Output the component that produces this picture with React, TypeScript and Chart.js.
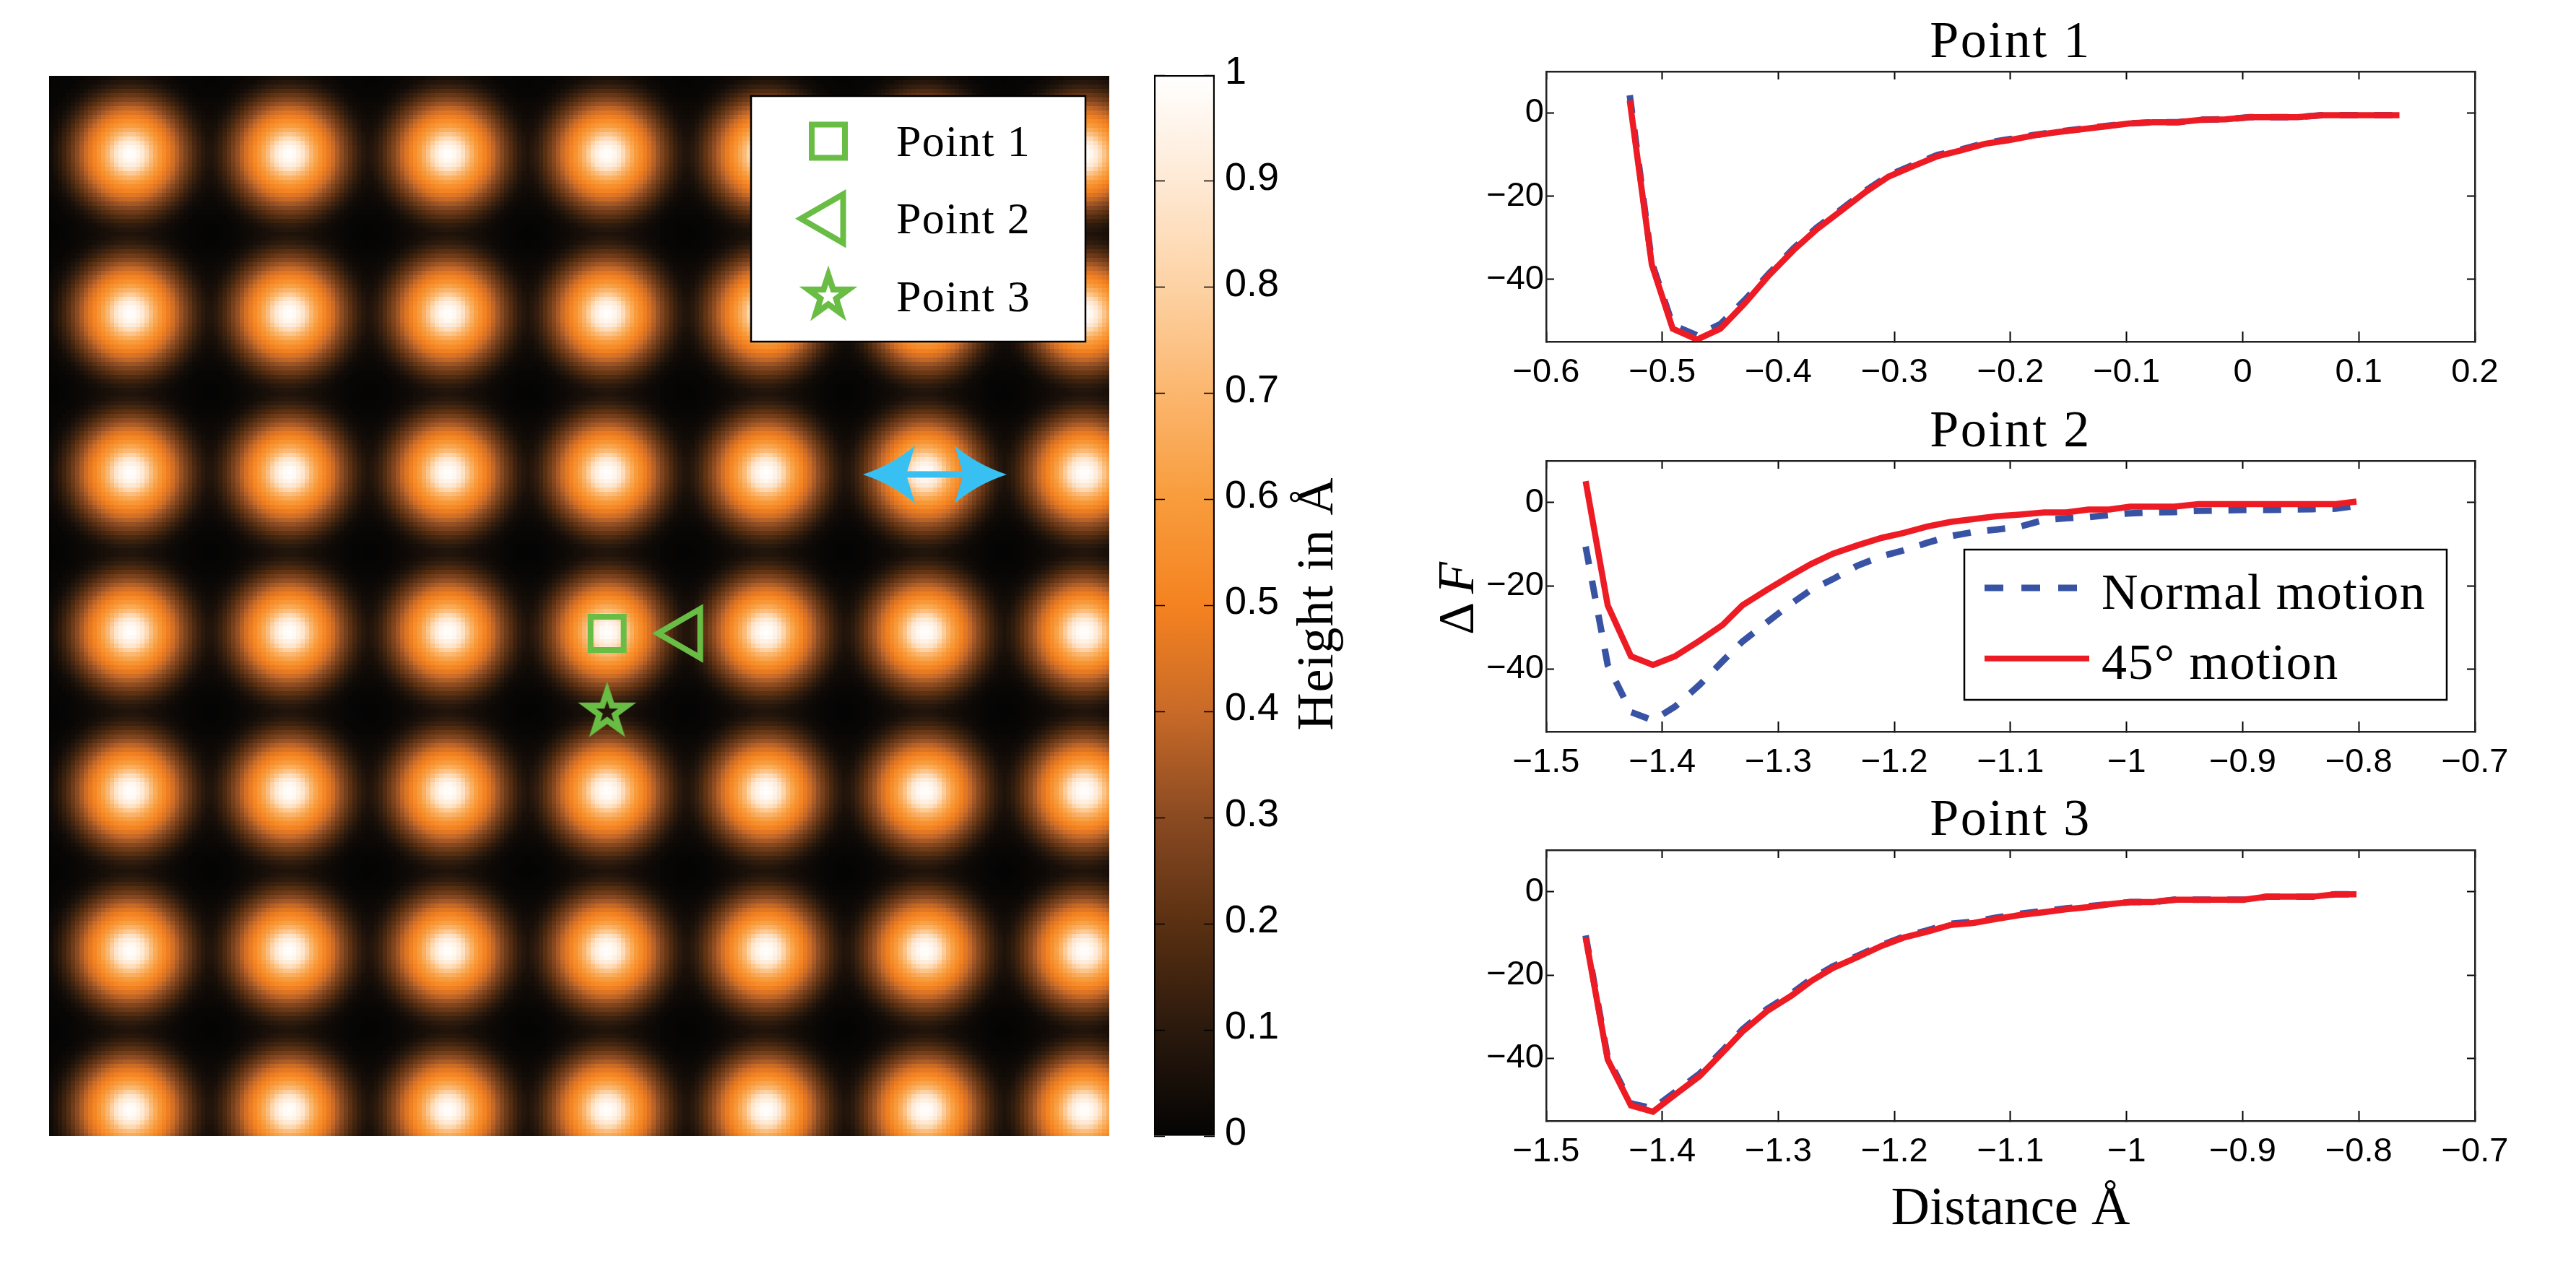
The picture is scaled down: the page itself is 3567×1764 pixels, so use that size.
import React, { useEffect, useRef } from "react";
import { Chart, registerables } from "chart.js";
import { drawPoint } from "chart.js/helpers";

Chart.register(...registerables);

// ---------- data ----------
const peakColumns = [0, 1, 2, 3, 4, 5, 6];
const peakRows = [0, 1, 2, 3, 4, 5, 6];
// height of one bump against distance from its centre, in lattice units
const profileDistance = [0, 0.045, 0.091, 0.136, 0.182, 0.227, 0.264, 0.318, 0.364, 0.418, 0.46, 0.5, 0.56, 0.68, 2];
const profileHeight = [1, 0.97, 0.88, 0.72, 0.6, 0.51, 0.44, 0.33, 0.24, 0.14, 0.08, 0.035, 0.012, 0, 0];
const colorValues = [0, 0.1, 0.2, 0.3, 0.4, 0.5, 0.6, 0.7, 0.8, 0.9, 1];
const colorNames = ["#040404", "#2a190d", "#5a3012", "#8a4a22", "#c86a28", "#f58220", "#f89c3c", "#fbb66e", "#fdd2a4", "#fee9d4", "#ffffff"];
const colorbarTicks = [0, 0.1, 0.2, 0.3, 0.4, 0.5, 0.6, 0.7, 0.8, 0.9, 1];
const point1 = [{ x: 3.0, y: 3.008 }];
const point2 = [{ x: 3.497, y: 3.008 }];
const point3 = [{ x: 3.0, y: 3.502 }];
const arrowTipsX = [4.609, 5.513];
const arrowY = 2.01;
const mapLegendLabels = ["Point 1", "Point 2", "Point 3"];

const x1 = [-0.528, -0.509, -0.491, -0.47, -0.45, -0.429, -0.408, -0.387, -0.367, -0.346, -0.325, -0.305, -0.284, -0.263, -0.243, -0.222, -0.201, -0.18, -0.16, -0.139, -0.118, -0.098, -0.077, -0.056, -0.035, -0.015, 0.006, 0.027, 0.047, 0.068, 0.089, 0.11, 0.135];
const normal1 = [4.3, -36, -51, -53.5, -50.8, -45, -38.6, -32.6, -27.6, -23.2, -18.7, -15, -12.5, -10.1, -8.8, -7.2, -6.3, -5.3, -4.5, -3.8, -3.1, -2.5, -2.2, -2.2, -1.6, -1.5, -1, -1, -1, -0.5, -0.5, -0.5, -0.5];
const angled1 = [3, -36.5, -51.9, -54.5, -51.9, -45.8, -39, -33, -28, -23.5, -19, -15.3, -12.8, -10.4, -9, -7.4, -6.5, -5.4, -4.6, -3.9, -3.2, -2.5, -2.2, -2.2, -1.6, -1.5, -1, -1, -1, -0.5, -0.5, -0.5, -0.5];
const x23 = [-1.466, -1.447, -1.427, -1.408, -1.389, -1.368, -1.348, -1.331, -1.31, -1.289, -1.272, -1.253, -1.232, -1.211, -1.192, -1.172, -1.152, -1.132, -1.112, -1.092, -1.071, -1.052, -1.033, -1.015, -0.997, -0.978, -0.959, -0.938, -0.919, -0.899, -0.879, -0.859, -0.84, -0.82, -0.802];
const normal2 = [-10.6, -39, -50.3, -52.3, -49, -43.8, -38.1, -33.4, -28.8, -24.3, -21, -18.4, -15.2, -12.9, -11.5, -9.7, -8.1, -7.1, -6.5, -5.8, -4.2, -3.8, -3.5, -3, -2.6, -2.4, -2.3, -2, -1.9, -1.8, -1.8, -1.7, -1.6, -1.5, -0.8];
const angled2 = [5.1, -24.7, -36.9, -39, -36.9, -33.2, -29.4, -24.7, -21, -17.5, -14.8, -12.3, -10.3, -8.5, -7.3, -5.8, -4.7, -4, -3.3, -2.9, -2.4, -2.4, -1.7, -1.7, -1, -1, -1, -0.4, -0.4, -0.4, -0.4, -0.4, -0.4, -0.4, 0.2];
const normal3 = [-10.5, -39.8, -50.8, -52, -48.1, -43.7, -38.1, -33.1, -28.2, -24.5, -21, -17.9, -15.4, -12.8, -10.8, -9.3, -7.7, -7.2, -6.2, -5.3, -4.6, -4, -3.5, -3, -2.5, -2.5, -1.9, -1.9, -1.9, -1.9, -1.2, -1.2, -1.2, -0.6, -0.6];
const angled3 = [-11, -40.3, -51.3, -52.8, -48.7, -44.3, -38.6, -33.6, -28.7, -25, -21.5, -18.3, -15.7, -13, -11, -9.6, -8, -7.5, -6.5, -5.6, -4.9, -4.2, -3.7, -3, -2.5, -2.5, -1.9, -1.9, -1.9, -1.9, -1.2, -1.2, -1.2, -0.6, -0.6];
const yTicks = [-40, -20, 0];
const xTicks1 = [-0.6, -0.5, -0.4, -0.3, -0.2, -0.1, 0, 0.1, 0.2];
const xTicks23 = [-1.5, -1.4, -1.3, -1.2, -1.1, -1, -0.9, -0.8, -0.7];
const seriesLabels = ["Normal motion", "45° motion"];

// ---------- style ----------
const SERIF = "'Liberation Serif'";
const SANS = "'Liberation Sans'";
const RED = "#ed1c24";
const BLUE = "#3953a4";
const GREEN = "#69bd45";
const CYAN = "#39c0f2";
const xRange = { min: -0.509, max: 6.158 };
const yRange = { min: -0.492, max: 6.163 };

const rgb = (hex: string) => [1, 3, 5].map((i) => parseInt(hex.slice(i, i + 2), 16));
const lookup = (xs: number[], ys: number[], v: number) => {
  if (v <= xs[0]) return ys[0];
  for (let i = 1; i < xs.length; i++) {
    if (v <= xs[i]) return ys[i - 1] + ((ys[i] - ys[i - 1]) * (v - xs[i - 1])) / (xs[i] - xs[i - 1]);
  }
  return ys[ys.length - 1];
};
const colorRGB = colorNames.map(rgb);
const colorAt = (v: number) =>
  [0, 1, 2].map((c) => lookup(colorValues, colorRGB.map((r) => r[c]), v));

function text(ctx: any, s: string, x: number, y: number, font: string, spacing = 0, align = "left") {
  ctx.save();
  ctx.font = font;
  ctx.fillStyle = "#000";
  ctx.textAlign = align;
  ctx.textBaseline = "alphabetic";
  ctx.letterSpacing = spacing + "px";
  ctx.fillText(s, x, y);
  ctx.restore();
}

function makeStar(): HTMLCanvasElement {
  const c = document.createElement("canvas");
  c.width = 96;
  c.height = 96;
  const g = c.getContext("2d") as CanvasRenderingContext2D;
  const star = (R: number, r: number) => {
    g.beginPath();
    for (let i = 0; i < 10; i++) {
      const a = -Math.PI / 2 + (i * Math.PI) / 5;
      const d = i % 2 ? r : R;
      g.lineTo(48 + d * Math.cos(a), 48 + d * Math.sin(a));
    }
    g.closePath();
    g.fill();
  };
  g.fillStyle = GREEN;
  star(42.5, 16.5);
  g.globalCompositeOperation = "destination-out";
  star(16, 6.2);
  return c;
}

const heatPlugin = {
  id: "heat",
  beforeDatasetsDraw(chart: any) {
    const { ctx, chartArea: a, scales } = chart;
    const cell = 6;
    const cols = Math.ceil((a.right - a.left) / cell);
    const rows = Math.ceil((a.bottom - a.top) / cell);
    const off = document.createElement("canvas");
    off.width = cols;
    off.height = rows;
    const g = off.getContext("2d") as CanvasRenderingContext2D;
    const img = g.createImageData(cols, rows);
    for (let j = 0; j < rows; j++) {
      const vy = scales.y.getValueForPixel(a.top + (j + 0.5) * cell);
      for (let i = 0; i < cols; i++) {
        const vx = scales.x.getValueForPixel(a.left + (i + 0.5) * cell);
        let h = 0;
        for (const px of peakColumns) {
          for (const py of peakRows) {
            h += lookup(profileDistance, profileHeight, Math.hypot(vx - px, vy - py));
          }
        }
        const col = colorAt(Math.min(1, h));
        const k = (j * cols + i) * 4;
        img.data[k] = col[0];
        img.data[k + 1] = col[1];
        img.data[k + 2] = col[2];
        img.data[k + 3] = 255;
      }
    }
    g.putImageData(img, 0, 0);
    ctx.save();
    ctx.imageSmoothingEnabled = false;
    ctx.drawImage(off, a.left, a.top, cols * cell, rows * cell);
    ctx.restore();
  },
  afterDatasetsDraw(chart: any) {
    const { ctx, scales } = chart;
    // double arrow
    const y = scales.y.getPixelForValue(arrowY);
    const lx = scales.x.getPixelForValue(arrowTipsX[0]);
    const rx = scales.x.getPixelForValue(arrowTipsX[1]);
    ctx.save();
    ctx.fillStyle = CYAN;
    ctx.fillRect(lx + 50, y - 4.5, rx - lx - 100, 9);
    for (const [tip, dir] of [[lx, 1], [rx, -1]]) {
      ctx.beginPath();
      ctx.moveTo(tip, y);
      ctx.quadraticCurveTo(tip + dir * 42, y - 14, tip + dir * 72, y - 40);
      ctx.lineTo(tip + dir * 60, y);
      ctx.lineTo(tip + dir * 72, y + 40);
      ctx.quadraticCurveTo(tip + dir * 42, y + 14, tip, y);
      ctx.closePath();
      ctx.fill();
    }
    // legend
    ctx.fillStyle = "#fff";
    ctx.strokeStyle = "#000";
    ctx.lineWidth = 2.5;
    ctx.fillRect(972, 28, 463, 340);
    ctx.strokeRect(972, 28, 463, 340);
    ctx.strokeStyle = GREEN;
    ctx.fillStyle = "rgba(0,0,0,0)";
    const ds = chart.data.datasets;
    const spots = [[1079, 90.6], [1080, 197.7], [1079, 305]];
    spots.forEach((p, i) => {
      const d = ds[i + 1];
      ctx.lineWidth = d.pointBorderWidth;
      drawPoint(ctx, { pointStyle: d.pointStyle, rotation: d.pointRotation || 0, radius: d.pointRadius, borderWidth: d.pointBorderWidth }, p[0], p[1]);
    });
    ctx.restore();
    [111, 218, 326].forEach((b, i) => text(ctx, mapLegendLabels[i], 1173, b, `62px ${SERIF}`, 1.2));
  },
};

const colorTitlePlugin = {
  id: "colorTitle",
  afterDraw(chart: any) {
    const { ctx } = chart;
    ctx.save();
    ctx.translate(255, 776);
    ctx.rotate(-Math.PI / 2);
    text(ctx, "Height in Å", 0, 0, `72px ${SERIF}`, 1, "center");
    ctx.restore();
  },
};

// the titles are drawn before the datasets, the ticks after them (ticks.z = 1)
const titleSpacingPlugin = {
  id: "titleSpacing",
  beforeDraw(chart: any) {
    chart.ctx.letterSpacing = "2.5px";
  },
  beforeDatasetsDraw(chart: any) {
    chart.ctx.letterSpacing = "0px";
  },
};

const pairLegendPlugin = {
  id: "pairLegend",
  afterDatasetsDraw(chart: any) {
    const { ctx } = chart;
    ctx.save();
    ctx.fillStyle = "#fff";
    ctx.strokeStyle = "#000";
    ctx.lineWidth = 2.5;
    ctx.fillRect(760, 198, 668, 208);
    ctx.strokeRect(760, 198, 668, 208);
    ctx.lineCap = "butt";
    ctx.lineWidth = 9;
    ctx.strokeStyle = BLUE;
    ctx.setLineDash([26, 25]);
    ctx.beginPath();
    ctx.moveTo(788, 251);
    ctx.lineTo(916, 251);
    ctx.stroke();
    ctx.setLineDash([]);
    ctx.lineWidth = 8;
    ctx.strokeStyle = RED;
    ctx.beginPath();
    ctx.moveTo(788, 348.7);
    ctx.lineTo(933, 348.7);
    ctx.stroke();
    ctx.restore();
    text(ctx, seriesLabels[0], 950, 280, `70px ${SERIF}`, 1.5);
    text(ctx, seriesLabels[1], 950, 377, `70px ${SERIF}`, 1.5);
    // y axis label
    ctx.save();
    ctx.translate(80, 316);
    ctx.rotate(-Math.PI / 2);
    text(ctx, "Δ", 0, 0, `70px ${SERIF}`);
    text(ctx, "F", 57, 0, `italic 72px ${SERIF}`);
    ctx.restore();
  },
};

const fmt = (v: number) => String(Math.round(v * 10) / 10).replace("-", "\u2212");
const setTicks = (list: number[]) => (s: any) => {
  s.ticks = list.map((value) => ({ value }));
};
const fixSize = (w: number | null, h: number | null) => (s: any) => {
  if (w !== null) s.width = w;
  if (h !== null) s.height = h;
  s.paddingLeft = s.paddingRight = s.paddingTop = s.paddingBottom = 0;
};

function lineConfig(opts: {
  title: string;
  xs: number[];
  normal: number[];
  angled: number[];
  xTicks: number[];
  xMin: number;
  xMax: number;
  titlePad: number;
  xHeight: number;
  xTitle?: string;
  plugins?: any[];
}) {
  const frame = { display: true, color: "#222", width: 2.5, z: 1 };
  const tickFont = { family: SANS, size: 47 };
  const pts = (ys: number[]) => ys.map((y, i) => ({ x: opts.xs[i], y }));
  return {
    type: "line",
    data: {
      datasets: [
        { label: seriesLabels[0], order: 2, data: pts(opts.normal), borderColor: BLUE, borderWidth: 9, borderDash: [25, 23], borderCapStyle: "butt", borderJoinStyle: "miter", pointRadius: 0, tension: 0 },
        { label: seriesLabels[1], order: 1, data: pts(opts.angled), borderColor: RED, borderWidth: 8.5, borderCapStyle: "butt", borderJoinStyle: "miter", pointRadius: 0, tension: 0 },
      ],
    },
    plugins: [titleSpacingPlugin, ...(opts.plugins || [])],
    options: {
      animation: false,
      responsive: false,
      devicePixelRatio: 1,
      layout: { autoPadding: false, padding: { left: 0, top: 0, right: 73, bottom: 0 } },
      plugins: {
        legend: { display: false },
        tooltip: { enabled: false },
        title: {
          display: true,
          text: opts.title,
          fullSize: false,
          color: "#000",
          font: { family: SERIF, size: 72, weight: "normal", lineHeight: 1 },
          padding: { top: 0, bottom: opts.titlePad },
        },
      },
      scales: {
        x: {
          type: "linear",
          position: "bottom",
          min: opts.xMin,
          max: opts.xMax,
          afterBuildTicks: setTicks(opts.xTicks),
          afterFit: fixSize(null, opts.xHeight),
          border: frame,
          grid: { drawOnChartArea: false, tickLength: -14, tickColor: "#000", tickWidth: 2, z: 1 },
          ticks: { z: 1, font: tickFont, color: "#000", padding: 29, autoSkip: false, maxRotation: 0, callback: fmt },
          title: opts.xTitle
            ? { display: true, text: opts.xTitle, color: "#000", font: { family: SERIF, size: 74, lineHeight: 1 }, padding: 0 }
            : { display: false },
        },
        x2: {
          type: "linear",
          position: "top",
          min: opts.xMin,
          max: opts.xMax,
          afterBuildTicks: setTicks(opts.xTicks),
          afterFit: fixSize(null, 0),
          border: frame,
          grid: { drawOnChartArea: false, tickLength: -11, tickColor: "#000", tickWidth: 2, z: 1 },
          ticks: { display: false },
        },
        y: {
          type: "linear",
          position: "left",
          min: -55,
          max: 10,
          afterBuildTicks: setTicks(yTicks),
          afterFit: fixSize(181, null),
          border: frame,
          grid: { drawOnChartArea: false, tickLength: -11, tickColor: "#000", tickWidth: 2, z: 1 },
          ticks: { z: 1, font: tickFont, color: "#000", padding: 14, callback: fmt },
        },
        y2: {
          type: "linear",
          position: "right",
          min: -55,
          max: 10,
          afterBuildTicks: setTicks(yTicks),
          afterFit: fixSize(0, null),
          border: frame,
          grid: { drawOnChartArea: false, tickLength: -11, tickColor: "#000", tickWidth: 2, z: 1 },
          ticks: { display: false },
        },
      },
    },
  };
}

function mapConfig() {
  const peaks: { x: number; y: number }[] = [];
  peakColumns.forEach((x) => peakRows.forEach((y) => peaks.push({ x, y })));
  return {
    type: "scatter",
    data: {
      datasets: [
        { label: "Peaks", data: peaks, pointRadius: 0 },
        { label: mapLegendLabels[0], data: point1, pointStyle: "rect", pointRadius: 32.5, pointBorderWidth: 8, pointBorderColor: GREEN, pointBackgroundColor: "rgba(0,0,0,0)" },
        { label: mapLegendLabels[1], data: point2, pointStyle: "triangle", pointRotation: -90, pointRadius: 39, pointBorderWidth: 8, pointBorderColor: GREEN, pointBackgroundColor: "rgba(0,0,0,0)" },
        { label: mapLegendLabels[2], data: point3, pointStyle: makeStar(), pointRadius: 42, pointBorderWidth: 0, pointBackgroundColor: GREEN },
      ],
    },
    plugins: [heatPlugin],
    options: {
      animation: false,
      responsive: false,
      devicePixelRatio: 1,
      layout: { autoPadding: false, padding: 0 },
      plugins: { legend: { display: false }, tooltip: { enabled: false } },
      scales: {
        x: { type: "linear", display: false, ...xRange },
        y: { type: "linear", display: false, reverse: true, ...yRange },
      },
    },
  };
}

function colorbarConfig() {
  const side = { drawOnChartArea: false, tickLength: -15, tickColor: "#000", tickWidth: 1.5, z: 1 };
  return {
    type: "bar",
    data: {
      labels: ["Height"],
      datasets: [
        {
          label: "Height in Å",
          data: [[0, 1]],
          barPercentage: 1,
          categoryPercentage: 1,
          borderWidth: 2.5,
          borderColor: "#000",
          borderSkipped: false,
          backgroundColor: (c: any) => {
            const { chartArea, ctx, scales } = c.chart;
            if (!chartArea) return "#000";
            const g = ctx.createLinearGradient(0, scales.y.getPixelForValue(0), 0, scales.y.getPixelForValue(1));
            colorValues.forEach((v, i) => g.addColorStop(v, colorNames[i]));
            return g;
          },
        },
      ],
    },
    plugins: [colorTitlePlugin],
    options: {
      animation: false,
      responsive: false,
      devicePixelRatio: 1,
      layout: { autoPadding: false, padding: { left: 8, top: 44, right: 0, bottom: 47 } },
      plugins: { legend: { display: false }, tooltip: { enabled: false } },
      scales: {
        x: { display: false },
        y: {
          type: "linear",
          position: "right",
          min: 0,
          max: 1,
          afterBuildTicks: setTicks(colorbarTicks),
          afterFit: fixSize(200, null),
          border: { display: false },
          grid: side,
          ticks: { font: { family: SANS, size: 54 }, color: "#000", padding: 29, labelOffset: -3, autoSkip: false, callback: fmt },
        },
        y2: {
          type: "linear",
          position: "left",
          min: 0,
          max: 1,
          afterBuildTicks: setTicks(colorbarTicks),
          afterFit: fixSize(0, null),
          border: { display: false },
          grid: side,
          ticks: { display: false },
        },
      },
    },
  };
}

function Panel({ left, top, width, height, make }: any) {
  const ref = useRef<HTMLCanvasElement>(null);
  useEffect(() => {
    const chart = new Chart(ref.current as HTMLCanvasElement, make());
    return () => chart.destroy();
  }, []);
  return (
    <canvas
      ref={ref}
      width={width}
      height={height}
      style={{ position: "absolute", left, top, width, height, display: "block" }}
    />
  );
}

export default function App() {
  return (
    <div style={{ position: "absolute", left: 0, top: 0, width: 3567, height: 1764, background: "#fff", overflow: "hidden" }}>
      <Panel left={68} top={105} width={1468} height={1468} make={mapConfig} />
      <Panel left={1590} top={60} width={292} height={1560} make={colorbarConfig} />
      <Panel
        left={1960}
        top={24}
        width={1540}
        height={509}
        make={() =>
          lineConfig({ title: "Point 1", xs: x1, normal: normal1, angled: angled1, xTicks: xTicks1, xMin: -0.6, xMax: 0.2, titlePad: 3, xHeight: 60 })
        }
      />
      <Panel
        left={1960}
        top={563}
        width={1540}
        height={510}
        make={() =>
          lineConfig({ title: "Point 2", xs: x23, normal: normal2, angled: angled2, xTicks: xTicks23, xMin: -1.5, xMax: -0.7, titlePad: 3, xHeight: 60, plugins: [pairLegendPlugin] })
        }
      />
      <Panel
        left={1960}
        top={1101}
        width={1540}
        height={612}
        make={() =>
          lineConfig({ title: "Point 3", xs: x23, normal: normal3, angled: angled3, xTicks: xTicks23, xMin: -1.5, xMax: -0.7, titlePad: 4, xHeight: 161, xTitle: "Distance Å" })
        }
      />
    </div>
  );
}
